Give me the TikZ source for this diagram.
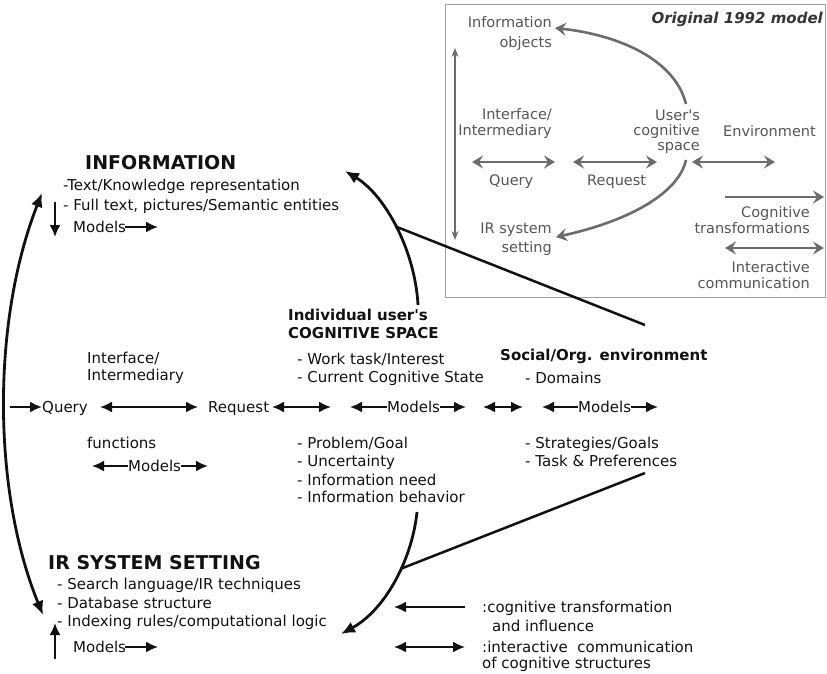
\documentclass[tikz,border=0pt]{standalone}
\usepackage{fontspec}
\setmainfont{DejaVu Sans}[Ligatures=TeXOff]
\usetikzlibrary{arrows.meta}
\definecolor{ink}{HTML}{111111}
\definecolor{gtext}{HTML}{555555}
\definecolor{garrow}{HTML}{6C6C6C}
\definecolor{gbox}{HTML}{A0A0A0}
\begin{document}
\begin{tikzpicture}[x=1pt,y=-1pt,
  t/.style={inner sep=0pt,anchor=base west,font=\fontsize{15}{18}\selectfont,text=ink},
  hd/.style={inner sep=0pt,anchor=base west,font=\fontsize{19}{22}\bfseries\selectfont,text=ink},
  hb/.style={inner sep=0pt,anchor=base west,font=\fontsize{15}{18}\bfseries\selectfont,text=ink},
  g/.style={inner sep=0pt,anchor=base east,font=\fontsize{14.5}{17}\selectfont,text=gtext},
  gw/.style={g,anchor=base west},
  arr/.style={draw=ink,line width=2pt,-{Latex[length=12pt,width=11pt]}},
  darr/.style={draw=ink,line width=2pt,{Latex[length=12pt,width=11pt]}-{Latex[length=12pt,width=11pt]}},
  curv/.style={draw=ink,line width=2.8pt,-{Latex[length=14pt,width=12pt]}},
  garr/.style={draw=garrow,line width=2.6pt,-{Stealth[length=11pt,width=13pt,inset=4pt]}},
  gdarr/.style={draw=garrow,line width=2.6pt,{Stealth[length=11pt,width=13pt,inset=4pt]}-{Stealth[length=11pt,width=13pt,inset=4pt]}},
]
\useasboundingbox (0,0) rectangle (827,673);

% ---------- inset: original 1992 model ----------
\draw[gbox,line width=1pt] (445,4) rectangle (825,297);
\node[g,font=\fontsize{15}{18}\bfseries\itshape\selectfont,text=ink!85] (orig) at (823,23) {Original 1992 model};
\node[g] (io1) at (552,27) {Information};
\node[g] (io2) at (552,47) {objects};
\node[g] (ii1) at (552,119) {Interface/};
\node[g] (ii2) at (552,135) {Intermediary};
\node[g] (us1) at (700,120) {User's};
\node[g] (us2) at (700,135) {cognitive};
\node[g] (us3) at (700,150) {space};
\node[gw] (env) at (723,136) {Environment};
\node[gw] (gq) at (489,185) {Query};
\node[gw] (gr) at (587,185) {Request};
\node[g] (ir1) at (552,233) {IR system};
\node[g] (ir2) at (552,252) {setting};
\node[g] (ct1) at (810,217) {Cognitive};
\node[g] (ct2) at (810,233) {transformations};
\node[g] (ic1) at (810,272) {Interactive};
\node[g] (ic2) at (810,288) {communication};

\coordinate (gv1) at (455,48);
\coordinate (gv2) at (455,240);
\draw[draw=garrow,line width=1.6pt,{Stealth[length=9pt,width=7pt,inset=3pt]}-{Stealth[length=9pt,width=7pt,inset=3pt]}] (gv1) -- (gv2);
\coordinate (ga1) at (686,104);
\coordinate (ga2) at (555,28);
\draw[garr] (ga1) .. controls (675,60) and (620,35) .. (ga2);
\coordinate (gb1) at (686,160);
\coordinate (gb2) at (556,237);
\draw[garr] (gb1) .. controls (678,195) and (625,222) .. (gb2);
\coordinate (gqa) at (472,162); \coordinate (gqb) at (555,162);
\draw[gdarr] (gqa) -- (gqb);
\coordinate (gra) at (573,162); \coordinate (grb) at (657,162);
\draw[gdarr] (gra) -- (grb);
\coordinate (gea) at (692,162); \coordinate (geb) at (775,162);
\draw[gdarr] (gea) -- (geb);
\coordinate (gca) at (725,197); \coordinate (gcb) at (824,197);
\draw[garr] (gca) -- (gcb);
\coordinate (gia) at (725,248); \coordinate (gib) at (824,248);
\draw[gdarr] (gia) -- (gib);

% ---------- INFORMATION ----------
\node[hd] (info) at (85,169) {INFORMATION};
\node[t] (info1) at (63,190) {-Text/Knowledge representation};
\node[t] (info2) at (63,210) {- Full text, pictures/Semantic entities};
\node[t] (infom) at (73,232) {Models};
\coordinate (infoma) at (125,227); \coordinate (infomb) at (158,227);
\draw[arr] (infoma) -- (infomb);
\coordinate (infoda) at (55,202); \coordinate (infodb) at (55,237);
\draw[arr] (infoda) -- (infodb);

% ---------- Interface ----------
\node[t] (if1) at (87,363) {Interface/};
\node[t] (if2) at (87,380) {Intermediary};
\node[t] (query) at (42,412) {Query};
\node[t] (request) at (208,412) {Request};
\node[t] (func) at (87,448) {functions};
\node[t] (ifm) at (128,471) {Models};
\coordinate (qa) at (10,407);
\draw[arr] (qa) -- (query.west |- qa);
\coordinate (qra) at (100,407); \coordinate (qrb) at (198,407);
\draw[darr] (qra) -- (qrb);
\coordinate (rca) at (272,407); \coordinate (rcb) at (331,407);
\draw[darr] (rca) -- (rcb);
\coordinate (ifma) at (92,466); \coordinate (ifmb) at (208,466);
\draw[arr] (ifm.west |- ifma) -- (ifma);
\draw[arr] (ifm.east |- ifmb) -- (ifmb);

% ---------- Cognitive space ----------
\node[hb] (cs1) at (288,320) {Individual user's};
\node[hb] (cs2) at (288,338) {COGNITIVE SPACE};
\node[t] (cs3) at (297,364) {- Work task/Interest};
\node[t] (cs4) at (297,382) {- Current Cognitive State};
\node[t] (csm) at (387,412) {Models};
\coordinate (csma) at (350,407); \coordinate (csmb) at (466,407);
\draw[arr] (csm.west |- csma) -- (csma);
\draw[arr] (csm.east |- csmb) -- (csmb);
\node[t] (cs5) at (297,448) {- Problem/Goal};
\node[t] (cs6) at (297,466) {- Uncertainty};
\node[t] (cs7) at (297,485) {- Information need};
\node[t] (cs8) at (297,502) {- Information behavior};
\coordinate (cea) at (483,407); \coordinate (ceb) at (523,407);
\draw[darr] (cea) -- (ceb);

% ---------- Social environment ----------
\node[hb] (se) at (500,360) {Social/Org. environment};
\node[t] (se1) at (525,383) {- Domains};
\node[t] (sem) at (578,412) {Models};
\coordinate (sema) at (542,407); \coordinate (semb) at (658,407);
\draw[arr] (sem.west |- sema) -- (sema);
\draw[arr] (sem.east |- semb) -- (semb);
\node[t] (se2) at (525,448) {- Strategies/Goals};
\node[t] (se3) at (525,466) {- Task \& Preferences};

% ---------- IR system setting ----------
\node[hd] (irs) at (48,569) {IR SYSTEM SETTING};
\node[t] (irs1) at (57,589) {- Search language/IR techniques};
\node[t] (irs2) at (57,608) {- Database structure};
\node[t] (irs3) at (57,626) {- Indexing rules/computational logic};
\node[t] (irsm) at (73,652) {Models};
\coordinate (irsma) at (125,647); \coordinate (irsmb) at (158,647);
\draw[arr] (irsma) -- (irsmb);
\coordinate (irsua) at (55,659); \coordinate (irsub) at (55,623);
\draw[arr] (irsua) -- (irsub);

% ---------- big curves ----------
\coordinate (lt) at (42,193);
\coordinate (lb) at (43,615);
\draw[draw=ink,line width=2.8pt,{Latex[length=14pt,width=12pt]}-{Latex[length=14pt,width=12pt]}] (lt) .. controls (-8,320) and (-8,490) .. (lb);

\coordinate (cu1) at (418,305);
\coordinate (cu2) at (345,171);
\draw[curv] (cu1) .. controls (415,250) and (385,195) .. coordinate[pos=0.5] (j1) (cu2);
\coordinate (cd1) at (417,512);
\coordinate (cd2) at (341,634);
\draw[curv] (cd1) .. controls (412,560) and (385,610) .. coordinate[pos=0.4] (j2) (cd2);
\coordinate (e1) at (645,325);
\draw[draw=ink,line width=2.5pt] (e1) -- (j1);
\coordinate (e2) at (645,473);
\draw[draw=ink,line width=2.5pt] (e2) -- (j2);

% ---------- legend ----------
\node[t] (lg1) at (482,612) {:cognitive transformation};
\node[t] (lg2) at (492,631) {and influence};
\node[t] (lg3) at (482,652) {:interactive\ \ communication};
\node[t] (lg4) at (482,668) {of cognitive structures};
\coordinate (lga) at (465,607); \coordinate (lgb) at (394,607);
\draw[arr] (lga) -- (lgb);
\coordinate (lgc) at (394,647); \coordinate (lgd) at (465,647);
\draw[darr] (lgc) -- (lgd);
\end{tikzpicture}
\end{document}
